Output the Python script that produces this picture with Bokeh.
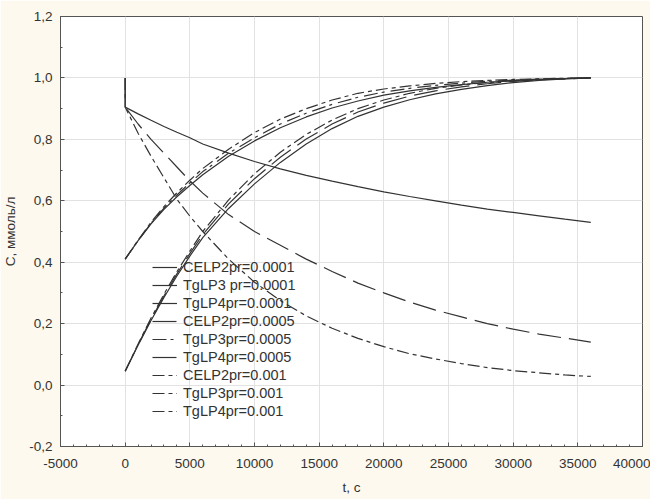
from bokeh.plotting import figure
from bokeh.models import (Range1d, LinearAxis, FixedTicker, CustomJSTickFormatter,
                          Legend, Grid)
from bokeh.embed import file_html
from bokeh.resources import INLINE

# ---- data ----
t_celp = [0, 0, 1000, 2000, 3000, 4000, 5000, 6000, 8000, 10000, 12000, 14000, 16000,
          18000, 20000, 22000, 24000, 26000, 28000, 30000, 32000, 34000, 36000]
celp2_p1 = [1.0, 0.905, 0.883, 0.862, 0.842, 0.823, 0.805, 0.785, 0.755, 0.728, 0.704, 0.683,
            0.664, 0.646, 0.629, 0.614, 0.600, 0.586, 0.573, 0.562, 0.551, 0.540, 0.530]
celp2_p5 = [1.0, 0.905, 0.850, 0.800, 0.755, 0.710, 0.665, 0.625, 0.555, 0.500, 0.455, 0.410,
            0.370, 0.332, 0.300, 0.270, 0.244, 0.222, 0.200, 0.182, 0.166, 0.153, 0.140]
celp2_p10 = [1.0, 0.905, 0.820, 0.745, 0.675, 0.605, 0.550, 0.500, 0.410, 0.335, 0.275, 0.225,
             0.185, 0.152, 0.125, 0.102, 0.085, 0.070, 0.057, 0.047, 0.040, 0.033, 0.028]

t_tg = [0, 1000, 2000, 3000, 4000, 5000, 6000, 8000, 10000, 12000, 14000, 16000,
        18000, 20000, 22000, 24000, 26000, 28000, 30000, 32000, 34000, 36000]
tglp3_p1 = [0.41, 0.47, 0.525, 0.572, 0.613, 0.650, 0.685, 0.745, 0.795, 0.838, 0.873, 0.902,
            0.925, 0.944, 0.958, 0.969, 0.978, 0.986, 0.991, 0.995, 0.998, 1.0]
tglp3_p5 = [0.41, 0.47, 0.527, 0.576, 0.619, 0.658, 0.695, 0.755, 0.805, 0.850, 0.885, 0.914,
            0.937, 0.954, 0.966, 0.976, 0.983, 0.989, 0.993, 0.996, 0.998, 1.0]
tglp3_p10 = [0.41, 0.472, 0.530, 0.581, 0.626, 0.667, 0.705, 0.768, 0.822, 0.866, 0.900, 0.928,
             0.950, 0.964, 0.974, 0.982, 0.988, 0.992, 0.995, 0.997, 0.999, 1.0]
tglp4_p1 = [0.045, 0.130, 0.210, 0.285, 0.355, 0.420, 0.480, 0.575, 0.655, 0.725, 0.785, 0.835,
            0.875, 0.905, 0.929, 0.948, 0.963, 0.975, 0.985, 0.992, 0.997, 1.0]
tglp4_p5 = [0.045, 0.132, 0.214, 0.290, 0.362, 0.428, 0.490, 0.590, 0.672, 0.742, 0.801, 0.850,
            0.889, 0.918, 0.941, 0.958, 0.971, 0.981, 0.989, 0.994, 0.997, 1.0]
tglp4_p10 = [0.045, 0.134, 0.218, 0.296, 0.369, 0.436, 0.500, 0.603, 0.688, 0.758, 0.816, 0.863,
             0.900, 0.928, 0.950, 0.966, 0.977, 0.985, 0.991, 0.995, 0.998, 1.0]

labels = ["CELP2pr=0.0001", "TgLP3 pr=0.0001", "TgLP4pr=0.0001",
          "CELP2pr=0.0005", "TgLP3pr=0.0005", "TgLP4pr=0.0005",
          "CELP2pr=0.001", "TgLP3pr=0.001", "TgLP4pr=0.001"]

x_ticks = [-5000, 0, 5000, 10000, 15000, 20000, 25000, 30000, 35000, 40000]
x_minor = [v for v in range(-5000, 40001, 1000)]
y_ticks = [-0.2, 0.0, 0.2, 0.4, 0.6, 0.8, 1.0, 1.2]
y_minor = [-0.2, -0.1, 0.0, 0.1, 0.2, 0.3, 0.4, 0.5, 0.6, 0.7, 0.8, 0.9, 1.0, 1.1, 1.2]

x_label = "t, c"
y_label = "C, ммоль/л"

FONT = "Liberation Sans"
TXT = "#333333"
BG = "#FDF9EE"
LC = "#333333"

p = figure(width=650, height=499, output_backend="svg", toolbar_location=None,
           x_range=Range1d(-5000, 40000), y_range=Range1d(-0.2, 1.2),
           min_border_left=53, min_border_right=8, min_border_top=16, min_border_bottom=53,
           background_fill_color="white", border_fill_color=BG,
           outline_line_color="#555555", x_axis_type=None, y_axis_type=None)

xt = FixedTicker(ticks=x_ticks, minor_ticks=x_minor)
yt = FixedTicker(ticks=y_ticks, minor_ticks=y_minor)
xfmt = CustomJSTickFormatter(code="return Math.round(tick).toString();")
yfmt = CustomJSTickFormatter(code="""
    if (Math.abs(tick) < 1e-9) { return '0,0'; }
    return tick.toFixed(1).replace('.', ',');
""")


def style(ax):
    ax.axis_line_color = "#555555"
    ax.major_tick_in = 4
    ax.major_tick_out = 0
    ax.minor_tick_in = 2
    ax.minor_tick_out = 0
    ax.major_tick_line_color = "#555555"
    ax.minor_tick_line_color = "#555555"
    ax.major_label_text_font = FONT
    ax.major_label_text_font_size = "13.5px"
    ax.major_label_text_color = TXT
    ax.axis_label_text_font = FONT
    ax.axis_label_text_font_size = "13.5px"
    ax.axis_label_text_font_style = "normal"
    ax.axis_label_text_color = TXT


xb = LinearAxis(ticker=xt, formatter=xfmt, axis_label=x_label)
style(xb)
xb.major_label_standoff = 12
xb.axis_label_standoff = 9
p.add_layout(xb, "below")

yl = LinearAxis(ticker=yt, formatter=yfmt, axis_label=y_label)
style(yl)
yl.major_label_standoff = 8
yl.axis_label_standoff = 8
p.add_layout(yl, "left")

p.add_layout(Grid(dimension=0, ticker=xt, grid_line_color="#e2e2e2"))
p.add_layout(Grid(dimension=1, ticker=yt, grid_line_color="#e2e2e2"))

series = [
    (t_celp, celp2_p1, "solid"), (t_tg, tglp3_p1, "solid"), (t_tg, tglp4_p1, "solid"),
    (t_celp, celp2_p5, "24 8"), (t_tg, tglp3_p5, "14 4 3 6"), (t_tg, tglp4_p5, "24 8"),
    (t_celp, celp2_p10, "12 4 4 4"), (t_tg, tglp3_p10, "12 4 4 4"), (t_tg, tglp4_p10, "12 4 4 4"),
]
items = []
for (tx, vals, dash), lab in zip(series, labels):
    r = p.line(tx, vals, line_color=LC, line_width=1.2, line_dash=dash)
    items.append((lab, [r]))

legend = Legend(items=items, location=(92, 26), margin=0, padding=0, spacing=0,
                glyph_width=25, glyph_height=18, label_height=18, label_standoff=6,
                label_text_font=FONT, label_text_font_size="14.5px", label_text_color=TXT,
                background_fill_alpha=0, border_line_alpha=0)
p.add_layout(legend, "center")

open("out.html", "w").write(file_html(p, INLINE))
